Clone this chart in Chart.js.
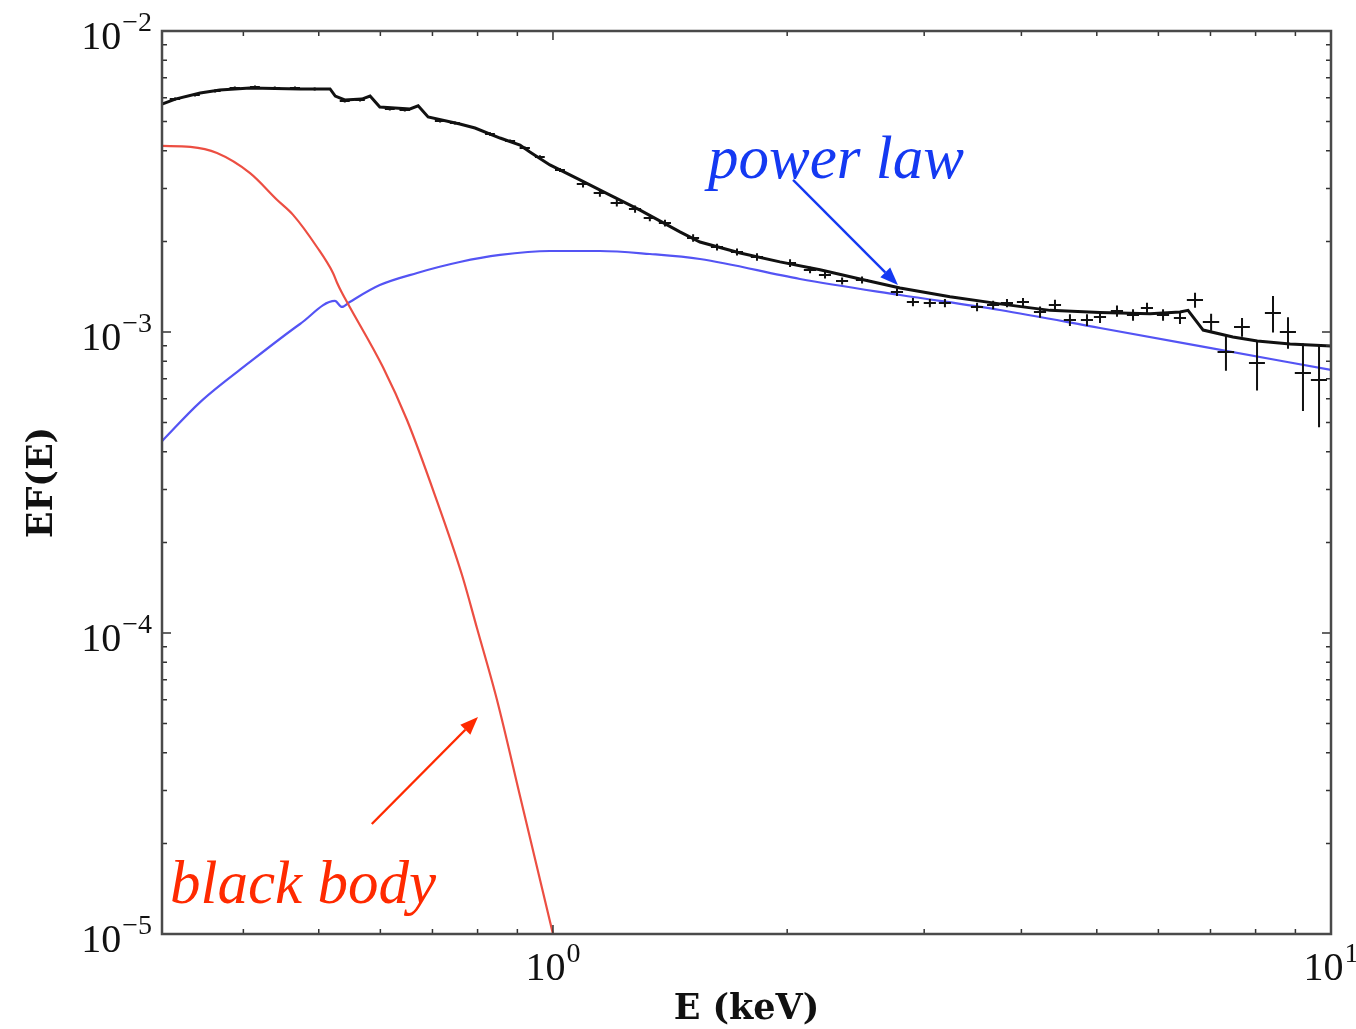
<!DOCTYPE html>
<html>
<head>
<meta charset="utf-8">
<title>EF(E) spectrum</title>
<script src="https://cdn.jsdelivr.net/npm/chart.js@4.4.1/dist/chart.umd.min.js"></script>
<style>
  html, body { margin: 0; padding: 0; background: #fff; }
  #wrap { width: 1356px; height: 1029px; }
</style>
</head>
<body>
<div id="wrap"><canvas id="spec" width="1356" height="1029"></canvas></div>
<script>
// total model (black)
const modelE = [0.3144, 0.327, 0.352, 0.373, 0.408, 0.473, 0.517, 0.525, 0.540, 0.568, 0.582, 0.599, 0.655, 0.671, 0.691,
  0.759, 0.794, 0.855, 0.907, 0.934, 0.991, 1.083, 1.184, 1.294, 1.456, 1.545, 1.740, 1.958, 2.204, 2.481, 2.793,
  3.238, 3.754, 4.353, 5.048, 5.853, 6.396, 6.55, 6.85, 7.48, 8.04, 8.86, 10];
const modelF = [5.72e-3, 5.94e-3, 6.22e-3, 6.37e-3, 6.47e-3, 6.42e-3, 6.42e-3, 6.08e-3, 5.90e-3, 5.94e-3, 6.08e-3, 5.59e-3, 5.51e-3, 5.64e-3, 5.18e-3,
  4.91e-3, 4.76e-3, 4.41e-3, 4.18e-3, 3.96e-3, 3.59e-3, 3.20e-3, 2.85e-3, 2.54e-3, 2.15e-3, 1.99e-3, 1.83e-3, 1.71e-3, 1.61e-3, 1.50e-3, 1.40e-3,
  1.31e-3, 1.24e-3, 1.18e-3, 1.16e-3, 1.15e-3, 1.165e-3, 1.18e-3, 1.015e-3, 9.62e-4, 9.33e-4, 9.12e-4, 8.98e-4];

// power law component (blue)
const powE = [0.3144, 0.352, 0.408, 0.473, 0.5245, 0.5355, 0.548, 0.599, 0.669, 0.759, 0.855, 0.991, 1.149, 1.332,
  1.545, 2.077, 2.793, 3.754, 5.048, 6.786, 10];
const powF = [4.34e-4, 5.85e-4, 7.95e-4, 1.063e-3, 1.268e-3, 1.211e-3, 1.258e-3, 1.432e-3, 1.571e-3, 1.708e-3, 1.803e-3, 1.858e-3, 1.858e-3, 1.816e-3,
  1.748e-3, 1.50e-3, 1.327e-3, 1.183e-3, 1.031e-3, 8.98e-4, 7.48e-4];

// black body component (red)
const bbE = [0.3144, 0.342, 0.370, 0.408, 0.4418, 0.4634, 0.4973, 0.5215, 0.528, 0.5355, 0.548, 0.6045, 0.6492, 0.705,
  0.764, 0.7985, 0.8474, 0.9096, 1.0];
const bbF = [4.15e-3, 4.12e-3, 3.93e-3, 3.37e-3, 2.75e-3, 2.45e-3, 1.916e-3, 1.571e-3, 1.455e-3, 1.349e-3, 1.211e-3, 7.65e-4, 5.10e-4, 2.873e-4,
  1.558e-4, 1.039e-4, 5.99e-5, 2.787e-5, 1.0e-5];

// data points with errors
const dataE = [0.3267, 0.3466, 0.368, 0.390, 0.414, 0.439, 0.466, 0.494, 0.540, 0.565, 0.617, 0.645, 0.716, 0.748, 0.830, 0.881, 0.920, 0.962, 1.021,
  1.093, 1.149, 1.208, 1.275, 1.332, 1.393, 1.514, 1.625, 1.724, 1.829, 2.017, 2.140, 2.237, 2.353, 2.496, 2.768, 2.902, 3.051, 3.190, 3.508,
  3.679, 3.833, 4.019, 4.227, 4.418, 4.618, 4.857, 5.048, 5.308, 5.566, 5.801, 6.083, 6.396,
  6.687, 7.013, 7.328, 7.685, 8.034, 8.423, 8.805, 9.204, 9.652];
const dataF = [5.944e-3, 6.13e-3, 6.32e-3, 6.466e-3, 6.516e-3, 6.466e-3, 6.466e-3, 6.416e-3, 5.853e-3, 5.898e-3, 5.506e-3, 5.463e-3, 5.023e-3, 4.947e-3, 4.548e-3, 4.311e-3, 4.087e-3, 3.814e-3, 3.453e-3,
  3.102e-3, 2.896e-3, 2.683e-3, 2.562e-3, 2.391e-3, 2.302e-3, 2.053e-3, 1.916e-3, 1.844e-3, 1.775e-3, 1.695e-3, 1.607e-3, 1.547e-3, 1.477e-3, 1.489e-3, 1.358e-3, 1.258e-3, 1.248e-3, 1.248e-3, 1.211e-3,
  1.229e-3, 1.248e-3, 1.258e-3, 1.165e-3, 1.229e-3, 1.096e-3, 1.096e-3, 1.121e-3, 1.174e-3, 1.139e-3, 1.201e-3, 1.139e-3, 1.113e-3,
  1.277e-3, 1.079e-3, 8.58e-4, 1.039e-3, 7.89e-4, 1.156e-3, 1.0e-3, 7.31e-4, 6.93e-4];
const dataDE = [0.005, 0.005, 0.006, 0.006, 0.006, 0.007, 0.007, 0.007, 0.008, 0.008, 0.009, 0.010, 0.011, 0.011, 0.012, 0.013, 0.014, 0.014, 0.015,
  0.020, 0.021, 0.022, 0.023, 0.024, 0.025, 0.027, 0.029, 0.031, 0.033, 0.036, 0.039, 0.040, 0.042, 0.045, 0.050, 0.052, 0.055, 0.057, 0.063,
  0.066, 0.069, 0.072, 0.076, 0.080, 0.083, 0.087, 0.091, 0.096, 0.100, 0.104, 0.110, 0.115,
  0.16, 0.17, 0.18, 0.18, 0.19, 0.20, 0.21, 0.22, 0.23];
const dataDF = [7e-5, 7e-5, 7e-5, 7e-5, 7e-5, 7e-5, 7e-5, 7e-5, 7e-5, 7e-5, 6e-5, 6e-5, 6e-5, 6e-5, 6e-5, 5e-5, 5e-5, 5e-5, 5e-5,
  8e-5, 8e-5, 7e-5, 7e-5, 6e-5, 6e-5, 6e-5, 5e-5, 5e-5, 5e-5, 5e-5, 4e-5, 4e-5, 4e-5, 4e-5, 4e-5, 4e-5, 4e-5, 4e-5, 4e-5,
  4e-5, 4e-5, 4e-5, 5e-5, 5e-5, 5e-5, 5e-5, 5e-5, 5e-5, 5e-5, 5e-5, 5e-5, 5e-5,
  7.4e-5, 7e-5, 1.15e-4, 7.5e-5, 1.5e-4, 1.6e-4, 1.2e-4, 1.85e-4, 2.1e-4];

// axes
const xMin = 0.3144, xMax = 10;
const yMin = 1e-5, yMax = 1e-2;
const xMajor = [1, 10];
const xMajorExp = ['0', '1'];
const xMinor = [0.4, 0.5, 0.6, 0.7, 0.8, 0.9, 2, 3, 4, 5, 6, 7, 8, 9];
const yMajor = [1e-5, 1e-4, 1e-3, 1e-2];
const yMajorExp = ['\u22125', '\u22124', '\u22123', '\u22122'];
const yMinor = [2e-5, 3e-5, 4e-5, 5e-5, 6e-5, 7e-5, 8e-5, 9e-5,
  2e-4, 3e-4, 4e-4, 5e-4, 6e-4, 7e-4, 8e-4, 9e-4,
  2e-3, 3e-3, 4e-3, 5e-3, 6e-3, 7e-3, 8e-3, 9e-3];

// labels with arrows, placed in data coordinates
const notes = [
  { text: 'power law', color: '#1439f2', tE: 1.582, tF: 3.25e-3, fromE: 2.035, fromF: 3.2e-3, toE: 2.776, toF: 1.432e-3 },
  { text: 'black body', color: '#ff2a00', tE: 0.322, tF: 1.268e-5, fromE: 0.585, fromF: 2.32e-5, toE: 0.801, toF: 5.26e-5 }
];

const pts = (xs, ys) => xs.map((x, i) => ({ x: x, y: ys[i] }));

function powerLabel(ctx, exp, x, baseY, align) {
  ctx.font = '40px "Liberation Serif"';
  const wb = ctx.measureText('10').width;
  ctx.font = '28px "Liberation Serif"';
  const we = ctx.measureText(exp).width;
  const total = wb + 1 + we;
  const left = align === 'right' ? x - total : x - total / 2;
  ctx.textAlign = 'left';
  ctx.textBaseline = 'alphabetic';
  ctx.font = '40px "Liberation Serif"';
  ctx.fillText('10', left, baseY);
  ctx.font = '28px "Liberation Serif"';
  ctx.fillText(exp, left + wb + 1, baseY - 18);
}

const framePlugin = {
  id: 'frame',
  afterDatasetsDraw(chart) {
    const ctx = chart.ctx, xs = chart.scales.x, ys = chart.scales.y;
    // error bars of the data
    ctx.save();
    ctx.strokeStyle = '#111';
    ctx.lineWidth = 2;
    dataE.forEach((e, i) => {
      const px = xs.getPixelForValue(e), py = ys.getPixelForValue(dataF[i]);
      const x0 = xs.getPixelForValue(e - dataDE[i]), x1 = xs.getPixelForValue(e + dataDE[i]);
      const y0 = ys.getPixelForValue(dataF[i] - dataDF[i]), y1 = ys.getPixelForValue(dataF[i] + dataDF[i]);
      ctx.beginPath();
      ctx.moveTo(x0, py); ctx.lineTo(x1, py);
      ctx.moveTo(px, y0); ctx.lineTo(px, y1);
      ctx.stroke();
    });
    ctx.restore();
  },
  afterDraw(chart) {
    const ctx = chart.ctx, xs = chart.scales.x, ys = chart.scales.y;
    const a = chart.chartArea;
    ctx.save();

    // ticks, pointing inwards on all four sides
    ctx.strokeStyle = '#333';
    ctx.lineWidth = 1.5;
    const tick = (vals, len) => {
      vals.forEach(v => {
        const px = xs.getPixelForValue(v);
        ctx.beginPath();
        ctx.moveTo(px, a.bottom); ctx.lineTo(px, a.bottom - len);
        ctx.moveTo(px, a.top); ctx.lineTo(px, a.top + len);
        ctx.stroke();
      });
    };
    const tickY = (vals, len) => {
      vals.forEach(v => {
        const py = ys.getPixelForValue(v);
        ctx.beginPath();
        ctx.moveTo(a.left, py); ctx.lineTo(a.left + len, py);
        ctx.moveTo(a.right, py); ctx.lineTo(a.right - len, py);
        ctx.stroke();
      });
    };
    tick(xMinor, 5); tick(xMajor, 9);
    tickY(yMinor, 5); tickY(yMajor, 9);

    // frame
    ctx.strokeStyle = '#4a4a4a';
    ctx.lineWidth = 2.5;
    ctx.strokeRect(a.left, a.top, a.right - a.left, a.bottom - a.top);

    // tick labels
    ctx.fillStyle = '#111';
    xMajor.forEach((v, i) => powerLabel(ctx, xMajorExp[i], xs.getPixelForValue(v), a.bottom + 46, 'center'));
    yMajor.forEach((v, i) => powerLabel(ctx, yMajorExp[i], a.left - 10, ys.getPixelForValue(v) + 18, 'right'));

    // annotations
    notes.forEach(n => {
      ctx.fillStyle = n.color;
      ctx.strokeStyle = n.color;
      ctx.font = 'italic 61px "Liberation Serif"';
      ctx.textAlign = 'left';
      ctx.textBaseline = 'alphabetic';
      ctx.fillText(n.text, xs.getPixelForValue(n.tE), ys.getPixelForValue(n.tF));
      const x0 = xs.getPixelForValue(n.fromE), y0 = ys.getPixelForValue(n.fromF);
      const x1 = xs.getPixelForValue(n.toE), y1 = ys.getPixelForValue(n.toF);
      const ang = Math.atan2(y1 - y0, x1 - x0);
      const hl = 18, hw = 7;
      const bx = x1 - hl * Math.cos(ang), by = y1 - hl * Math.sin(ang);
      ctx.lineWidth = 2.4;
      ctx.beginPath();
      ctx.moveTo(x0, y0); ctx.lineTo(bx, by);
      ctx.stroke();
      ctx.beginPath();
      ctx.moveTo(x1, y1);
      ctx.lineTo(bx + hw * Math.sin(ang), by - hw * Math.cos(ang));
      ctx.lineTo(bx - hw * Math.sin(ang), by + hw * Math.cos(ang));
      ctx.closePath();
      ctx.fill();
    });
    ctx.restore();
  }
};

Chart.defaults.font.family = '"Liberation Serif", serif';
Chart.defaults.color = '#111';

new Chart(document.getElementById('spec'), {
  type: 'scatter',
  data: {
    datasets: [
      { label: 'model', data: pts(modelE, modelF), showLine: true, borderColor: '#111', borderWidth: 3, pointRadius: 0 },
      { label: 'black body', data: pts(bbE, bbF), showLine: true, borderColor: 'rgb(236,78,66)', borderWidth: 2.2,
        pointRadius: 0, cubicInterpolationMode: 'monotone' },
      { label: 'power law', data: pts(powE, powF), showLine: true, borderColor: 'rgb(84,84,244)', borderWidth: 2.2,
        pointRadius: 0, cubicInterpolationMode: 'monotone' }
    ]
  },
  options: {
    responsive: false,
    animation: false,
    devicePixelRatio: 1,
    layout: { padding: { top: 31, right: 25, left: 0, bottom: 0 } },
    plugins: { legend: { display: false }, tooltip: { enabled: false } },
    scales: {
      x: {
        type: 'logarithmic', min: xMin, max: xMax, bounds: 'data',
        ticks: { display: false }, grid: { display: false }, border: { display: false },
        title: { display: true, text: 'E (keV)', color: '#111',
          font: { family: '"DejaVu Serif"', weight: 'bold', size: 35, lineHeight: 1 }, padding: { top: 0, bottom: 2 } },
        afterFit: s => { s.height = 95; }
      },
      y: {
        type: 'logarithmic', min: yMin, max: yMax, bounds: 'data',
        ticks: { display: false }, grid: { display: false }, border: { display: false },
        title: { display: true, text: 'EF(E)', color: '#111',
          font: { family: '"DejaVu Serif"', weight: 'bold', size: 35, lineHeight: 1 }, padding: { top: 25, bottom: 0 } },
        afterFit: s => { s.width = 162; }
      }
    }
  },
  plugins: [framePlugin]
});
</script>
</body>
</html>
